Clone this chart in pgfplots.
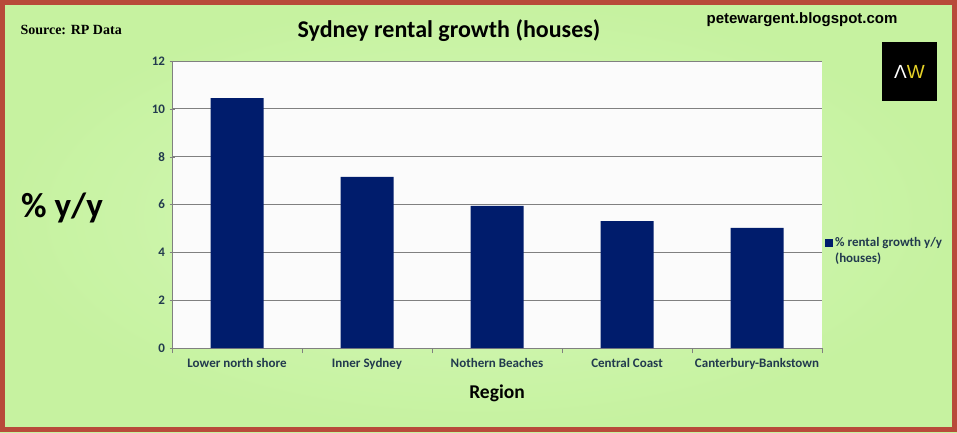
\documentclass[border=0pt]{standalone}
\usepackage{pgfplots}
\pgfplotsset{compat=1.18}
\usepackage{fontspec}
\setmainfont{Carlito}
\newfontfamily\serifsrc{Liberation Serif}
\newfontfamily\arialf{Liberation Sans}
\definecolor{bgg}{RGB}{198,242,160}
\definecolor{bgl}{RGB}{214,247,186}
\definecolor{brd}{RGB}{184,74,58}
\definecolor{navy}{RGB}{0,28,108}
\definecolor{lab}{RGB}{34,58,78}
\definecolor{awy}{RGB}{230,210,40}
\pgfplotstableread{
x y
0 10.45
1 7.15
2 5.94
3 5.31
4 5.02
}\rentdata
\begin{document}
\begin{tikzpicture}[x=1pt,y=1pt]
\shade[inner color=bgl, outer color=bgg] (0,0) rectangle (957,432);
\draw[brd, line width=5pt] (2.5,2.5) rectangle (954.5,429.5);
\node[anchor=west, font=\serifsrc\bfseries\fontsize{14}{16}\selectfont] at (17,402) {Source: RP Data};
\node[font=\bfseries\fontsize{24}{28}\selectfont] at (449,401) {Sydney rental growth (houses)};
\node[font=\arialf\bfseries\fontsize{15}{17}\selectfont] at (802,412) {petewargent.blogspot.com};
\fill[black] (882,331) rectangle (937,390);
\node[font=\arialf\fontsize{19}{21}\selectfont] at (909.5,360.5) {\textcolor{white}{Λ}\textcolor{awy}{W}};
\node[font=\bfseries\fontsize{35}{38}\selectfont] at (62,224) {\% y/y};
\begin{axis}[
  at={(172pt,84pt)}, anchor=south west,
  width=650pt, height=287pt, scale only axis,
  xmin=-0.5, xmax=4.5, ymin=0, ymax=12,
  ytick={0,2,...,12},
  xtick={0,...,4},
  xticklabels={Lower north shore, Inner Sydney, Nothern Beaches, Central Coast, Canterbury-Bankstown},
  xtick style={draw=none},
  extra x ticks={-0.5,0.5,1.5,2.5,3.5,4.5},
  extra x tick labels={},
  extra x tick style={grid=none, xtick style={draw=gray}},
  tick align=outside,
  major tick length=5pt,
  ytick style={draw=gray},
  axis lines=left,
  axis line style={-, draw=gray, line width=0.8pt},
  ymajorgrids,
  grid style={draw=gray, line width=0.8pt},
  axis background/.style={fill=white!97!gray},
  /pgf/number format/assume math mode=true,
  ticklabel style={font=\bfseries\fontsize{13}{15}\selectfont, text=lab},
  yticklabel style={xshift=-1pt},
  xticklabel style={yshift=-2pt},
  xlabel={Region},
  xlabel style={font=\bfseries\fontsize{19.5}{22}\selectfont, yshift=2pt},
  ybar, bar width=53pt,
  legend style={at={(1.0,0.338)}, anchor=west, draw=none, fill=none,
    font=\bfseries\fontsize{13}{16}\selectfont, text=lab, cells={align=left}},
  legend cell align=left,
]
\addplot[fill=navy, draw=none,
  legend image code/.code={\fill[navy] (0pt,3.5pt) rectangle (8pt,11.5pt);}]
  table[x=x, y=y] {\rentdata};
\addlegendentry{\% rental growth y/y\\(houses)}
\end{axis}
\end{tikzpicture}
\end{document}
